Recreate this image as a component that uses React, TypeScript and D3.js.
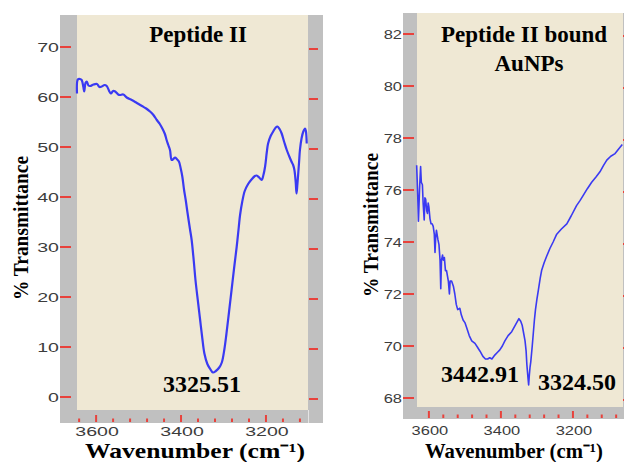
import React from "react";
import * as d3 from "d3";

// ---------- DATA ----------
const leftWavenumbers = [
  3645, 3643, 3638, 3634, 3630, 3628, 3625, 3622, 3618, 3614, 3606, 3598, 3592, 3587, 3580, 3575,
  3568, 3565, 3560, 3555, 3548, 3544, 3536, 3528, 3516, 3504, 3492, 3482, 3473, 3465, 3457, 3450,
  3444, 3438, 3434, 3430, 3426, 3422, 3418, 3414, 3410, 3405, 3401, 3397, 3393, 3389, 3385, 3379,
  3375, 3370, 3366, 3360, 3355, 3350, 3345, 3338, 3332, 3325, 3318, 3310, 3304, 3298, 3293, 3287,
  3281, 3275, 3269, 3264, 3261, 3256, 3250, 3242, 3234, 3226, 3222, 3216, 3210, 3206, 3202, 3198,
  3195, 3189, 3183, 3177, 3173, 3168, 3163, 3157, 3151, 3145, 3140, 3136, 3133, 3130, 3128, 3126,
  3124, 3122, 3120, 3116, 3112, 3108, 3106, 3104,
];
const leftTransmittance = [
  60.7, 63.5, 63.6, 63.4, 62.0, 61.1, 62.8, 63.1, 62.3, 62.2, 62.5, 62.6, 62.0, 62.1, 62.4, 62.2,
  61.0, 60.7, 61.2, 61.1, 60.5, 60.4, 60.5, 59.9, 59.4, 58.8, 58.2, 57.7, 57.1, 56.4, 55.4, 54.6,
  53.7, 52.6, 51.4, 50.4, 49.4, 47.4, 47.6, 47.9, 47.6, 47.1, 45.8, 44.1, 41.5, 39.4, 37.0, 33.6,
  31.4, 27.2, 23.4, 19.0, 15.4, 11.8, 8.7, 6.6, 5.7, 4.9, 5.2, 5.9, 6.9, 9.5, 12.7, 17.0,
  21.4, 25.8, 30.0, 34.0, 36.4, 39.0, 41.2, 42.6, 43.5, 44.2, 44.3, 43.9, 43.4, 44.4, 46.1, 49.0,
  50.7, 52.2, 53.1, 53.9, 54.1, 53.6, 52.7, 51.0, 49.4, 48.1, 47.1, 46.4, 45.4, 43.0, 40.7, 42.5,
  44.7, 47.0, 49.4, 51.8, 53.1, 53.7, 53.2, 50.7,
];

const rightWavenumbers = [
  3634, 3631, 3629, 3626, 3623, 3621, 3618, 3616, 3613, 3611, 3609, 3606, 3604, 3602, 3600, 3597,
  3594, 3591, 3588, 3585, 3583, 3581, 3579, 3575, 3572, 3569, 3567, 3565, 3562, 3560, 3557, 3554,
  3551, 3546, 3543, 3541, 3537, 3532, 3528, 3524, 3520, 3514, 3510, 3505, 3500, 3495, 3488, 3481,
  3472, 3465, 3458, 3450, 3443, 3437, 3431, 3425, 3417, 3410, 3403, 3396, 3389, 3380, 3370, 3360,
  3350, 3345, 3341, 3337, 3333, 3330, 3328, 3325, 3323, 3321, 3319, 3317, 3313, 3310, 3307, 3304,
  3300, 3296, 3291, 3287, 3280, 3273, 3264, 3255, 3245, 3232, 3217, 3205, 3190, 3180, 3171, 3160,
  3148, 3136, 3125, 3115, 3106, 3095, 3083, 3072, 3063,
];
const rightTransmittance = [
  76.95, 75.8, 74.8, 76.0, 76.9, 76.3, 76.2, 75.5, 74.85, 75.7, 75.65, 75.2, 75.1, 75.5, 75.35, 74.9,
  74.7, 74.7, 74.6, 74.3, 73.6, 74.2, 74.45, 74.1, 73.9, 73.3, 72.2, 73.3, 73.5, 73.3, 73.4, 72.9,
  72.9, 72.5, 72.0, 72.5, 72.5, 72.3, 72.0, 71.6, 71.4, 71.45, 71.2, 71.0, 70.9, 70.7, 70.4, 70.2,
  70.1, 69.95, 69.8, 69.6, 69.5, 69.5, 69.55, 69.5, 69.65, 69.75, 69.85, 70.0, 70.2, 70.4, 70.55, 70.8,
  71.05, 70.95, 70.8, 70.5, 70.2, 69.8, 69.3, 68.8, 68.5, 68.9, 69.2, 69.4, 70.0, 70.5, 71.0, 71.4,
  71.8, 72.15, 72.6, 72.9, 73.2, 73.45, 73.75, 74.0, 74.3, 74.5, 74.7, 75.0, 75.4, 75.6, 75.8, 76.05,
  76.3, 76.5, 76.7, 76.95, 77.15, 77.3, 77.4, 77.6, 77.75,
];

const leftYTicks = [0, 10, 20, 30, 40, 50, 60, 70];
const rightYTicks = [68, 70, 72, 74, 76, 78, 80, 82];
const xMajorTicks = [3600, 3400, 3200];
const leftXMinorTicks = [3640, 3600, 3560, 3520, 3480, 3440, 3400, 3360, 3320, 3280, 3240, 3200, 3160, 3120];
const rightXMinorTicks = [3600, 3560, 3520, 3480, 3440, 3400, 3360, 3320, 3280, 3240, 3200, 3160, 3120, 3080];

const leftTitle = ["Peptide II"];
const rightTitle = ["Peptide II bound", "AuNPs"];
const leftPeakLabels = [{ text: "3325.51" }];
const rightPeakLabels = [{ text: "3442.91" }, { text: "3324.50" }];
const xAxisTitle = "Wavenumber (cm\u207B\u00B9)";
const yAxisTitle = "% Transmittance";

// ---------- STYLE ----------
const GRAY = "#c0c0c0";
const BEIGE = "#efe8d4";
const RED = "#e8423c";
const BLUE = "#3a3af2";
const TICKTXT = "#3c3c3c";
const SERIF = "'Liberation Serif', 'Times New Roman', serif";
const SANS = "'Liberation Sans', Arial, sans-serif";

export default function App() {
  // Left panel geometry
  const L = { frameX: 60, frameY: 15, plotX0: 77, plotX1: 308, plotY1: 410, frameY1: 423, rightX1: 323 };
  const xL = d3.scaleLinear().domain([3645, 3101]).range([L.plotX0, L.plotX1]);
  const yL = d3.scaleLinear().domain([0, 70]).range([397, 47]);

  // Right panel geometry
  const R = { frameX: 403, frameY: 13, plotX0: 417, plotX1: 623, plotY1: 407, frameY1: 419 };
  const xR = d3.scaleLinear().domain([3633, 3061]).range([R.plotX0, R.plotX1]);
  const yR = d3.scaleLinear().domain([68, 82]).range([398, 34]);

  const leftData = leftWavenumbers.map((w, i) => [w, leftTransmittance[i]] as [number, number]);
  const rightData = rightWavenumbers.map((w, i) => [w, rightTransmittance[i]] as [number, number]);

  const lineL = d3
    .line<[number, number]>()
    .x((d) => xL(d[0]))
    .y((d) => yL(d[1]))
    .curve(d3.curveCatmullRom.alpha(0.5));
  const lineR = d3
    .line<[number, number]>()
    .x((d) => xR(d[0]))
    .y((d) => yR(d[1]));

  const leftScaleX = 1.45;
  const rightScaleX = 1.22;

  return (
    <svg width={624} height={462} style={{ position: "absolute", left: 0, top: 0 }}>
      <rect x={0} y={0} width={624} height={462} fill="#ffffff" />

      {/* ---------- LEFT PANEL ---------- */}
      <rect x={L.frameX} y={L.frameY} width={L.rightX1 - L.frameX} height={L.frameY1 - L.frameY} fill={GRAY} />
      <rect x={L.plotX0} y={L.frameY} width={L.plotX1 - L.plotX0} height={L.plotY1 - L.frameY} fill={BEIGE} />
      <line x1={L.plotX1 + 0.5} y1={L.plotY1} x2={L.plotX1 + 0.5} y2={L.frameY1} stroke="#e4e4e4" strokeWidth={1} />
      {leftYTicks.map((t) => (
        <g key={"ly" + t}>
          <line x1={L.frameX} x2={L.frameX + 11} y1={yL(t)} y2={yL(t)} stroke={RED} strokeWidth={2} />
          <line x1={L.plotX1 + 1} x2={L.plotX1 + 10} y1={yL(t) + 2} y2={yL(t) + 2} stroke={RED} strokeWidth={2} />
          <text
            transform={`translate(${L.frameX - 1},${yL(t) + 4.8}) scale(${leftScaleX},1)`}
            textAnchor="end"
            fontFamily={SANS}
            fontSize={13.5}
            fill={TICKTXT}
          >
            {t}
          </text>
        </g>
      ))}
      {leftXMinorTicks.map((t) => {
        const major = xMajorTicks.includes(t);
        return (
          <line
            key={"lx" + t}
            x1={xL(t)}
            x2={xL(t)}
            y1={major ? 415 : 418.5}
            y2={422}
            stroke={RED}
            strokeWidth={2}
          />
        );
      })}
      {xMajorTicks.map((t) => (
        <text
          key={"lxl" + t}
          transform={`translate(${xL(t) + 1},${435.5}) scale(${leftScaleX},1)`}
          textAnchor="middle"
          fontFamily={SANS}
          fontSize={13.5}
          fill={TICKTXT}
        >
          {t}
        </text>
      ))}
      <path d={lineL(leftData) ?? ""} fill="none" stroke={BLUE} strokeWidth={2.2} strokeLinejoin="round" />
      {leftTitle.map((s, i) => (
        <text key={"lt" + i} x={198} y={42} textAnchor="middle" fontFamily={SERIF} fontWeight="bold" fontSize={23} fill="#000">
          {s}
        </text>
      ))}
      {leftPeakLabels.map((p, i) => (
        <text key={"lp" + i} x={202} y={392} textAnchor="middle" fontFamily={SERIF} fontWeight="bold" fontSize={24} fill="#000">
          {p.text}
        </text>
      ))}
      <text
        x={195}
        y={457.5}
        textAnchor="middle"
        fontFamily={SERIF}
        fontWeight="bold"
        fontSize={21}
        fill="#000"
        textLength={220}
        lengthAdjust="spacingAndGlyphs"
      >
        {xAxisTitle}
      </text>
      <text
        transform={`translate(${28},${228}) rotate(-90)`}
        textAnchor="middle"
        fontFamily={SERIF}
        fontWeight="bold"
        fontSize={22}
        fill="#000"
        textLength={144}
        lengthAdjust="spacingAndGlyphs"
      >
        {yAxisTitle}
      </text>

      {/* ---------- RIGHT PANEL ---------- */}
      <rect x={R.frameX} y={R.frameY} width={624 - R.frameX} height={R.frameY1 - R.frameY} fill={GRAY} />
      <rect x={R.plotX0} y={R.frameY} width={R.plotX1 - R.plotX0} height={R.plotY1 - R.frameY} fill={BEIGE} />
      {rightYTicks.map((t) => (
        <g key={"ry" + t}>
          <line x1={R.frameX} x2={R.frameX + 11} y1={yR(t)} y2={yR(t)} stroke={RED} strokeWidth={2} />
          <line x1={R.plotX1} x2={624} y1={yR(t) + 2} y2={yR(t) + 2} stroke={RED} strokeWidth={2} />
          <text
            transform={`translate(${R.frameX - 1},${yR(t) + 4.8}) scale(${rightScaleX},1)`}
            textAnchor="end"
            fontFamily={SANS}
            fontSize={13.5}
            fill={TICKTXT}
          >
            {t}
          </text>
        </g>
      ))}
      {rightXMinorTicks.map((t) => {
        const major = xMajorTicks.includes(t);
        return (
          <line
            key={"rx" + t}
            x1={xR(t)}
            x2={xR(t)}
            y1={major ? 411 : 414.5}
            y2={418}
            stroke={RED}
            strokeWidth={2}
          />
        );
      })}
      {xMajorTicks.map((t) => (
        <text
          key={"rxl" + t}
          transform={`translate(${xR(t) + 1},${435}) scale(${rightScaleX},1)`}
          textAnchor="middle"
          fontFamily={SANS}
          fontSize={13.5}
          fill={TICKTXT}
        >
          {t}
        </text>
      ))}
      <path d={lineR(rightData) ?? ""} fill="none" stroke={BLUE} strokeWidth={1.6} strokeLinejoin="round" />
      {rightTitle.map((s, i) => (
        <text
          key={"rt" + i}
          x={i === 0 ? 524 : 529}
          y={42 + i * 29}
          textAnchor="middle"
          fontFamily={SERIF}
          fontWeight="bold"
          fontSize={23}
          fill="#000"
        >
          {s}
        </text>
      ))}
      {rightPeakLabels.map((p, i) => (
        <text
          key={"rp" + i}
          x={i === 0 ? 480 : 577}
          y={i === 0 ? 382 : 390}
          textAnchor="middle"
          fontFamily={SERIF}
          fontWeight="bold"
          fontSize={24}
          fill="#000"
        >
          {p.text}
        </text>
      ))}
      <text
        x={514}
        y={457.5}
        textAnchor="middle"
        fontFamily={SERIF}
        fontWeight="bold"
        fontSize={21}
        fill="#000"
        textLength={178}
        lengthAdjust="spacingAndGlyphs"
      >
        {xAxisTitle}
      </text>
      <text
        transform={`translate(${378},${225}) rotate(-90)`}
        textAnchor="middle"
        fontFamily={SERIF}
        fontWeight="bold"
        fontSize={22}
        fill="#000"
        textLength={144}
        lengthAdjust="spacingAndGlyphs"
      >
        {yAxisTitle}
      </text>
    </svg>
  );
}
